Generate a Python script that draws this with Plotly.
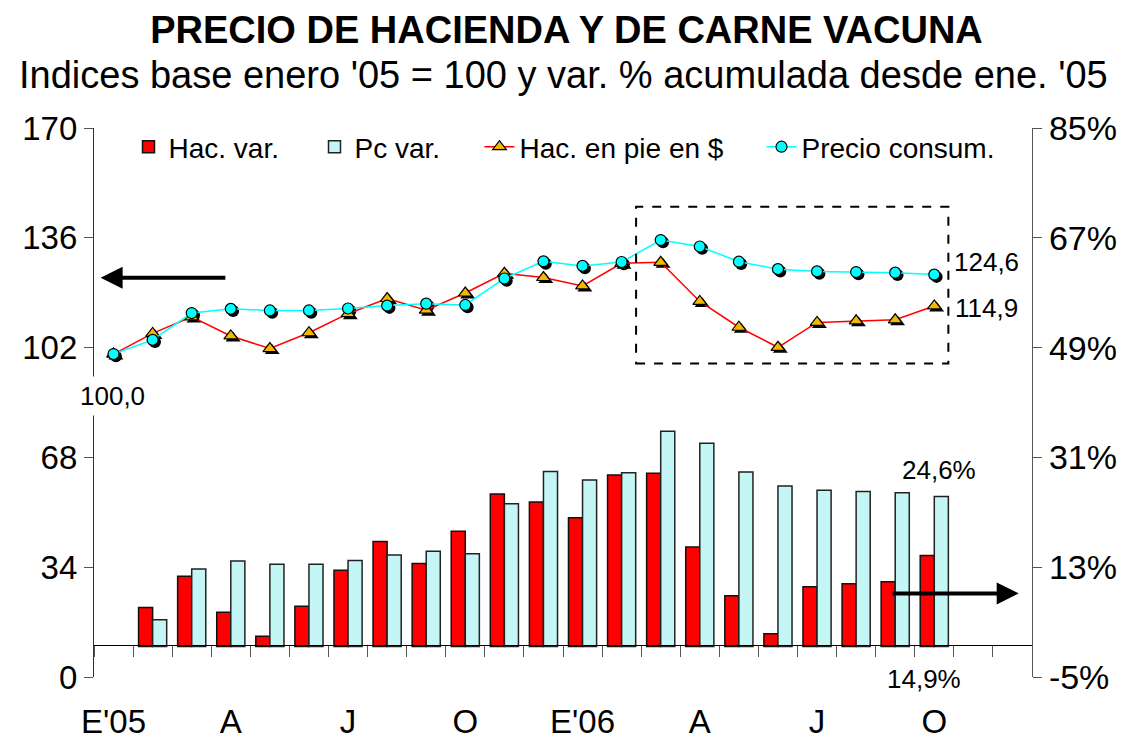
import plotly.graph_objects as go

months = list(range(24))
tick_pos = [0, 3, 6, 9, 12, 15, 18, 21]
tick_text = ["E'05", "A", "J", "O", "E'06", "A", "J", "O"]

# Indices base enero '05 = 100 (Jan05 .. Oct06)
hac_idx = [100.0, 106.4, 111.5, 105.6, 101.7, 106.6, 112.5, 117.2, 113.6, 118.9, 125.0,
           123.7, 121.1, 128.1, 128.4, 116.3, 108.3, 102.1, 109.8, 110.3, 110.6, 114.9]
pc_idx = [100.0, 104.4, 112.7, 114.0, 113.5, 113.5, 114.1, 115.0, 115.6, 115.2, 123.4,
          128.7, 127.3, 128.5, 135.3, 133.3, 128.6, 126.3, 125.6, 125.4, 125.2, 124.6]
# Var. % acumulada desde ene. '05
hac_var = [None, 6.4, 11.5, 5.6, 1.7, 6.6, 12.5, 17.2, 13.6, 18.9, 25.0,
           23.7, 21.1, 28.1, 28.4, 16.3, 8.3, 2.1, 9.8, 10.3, 10.6, 14.9]
pc_var = [None, 4.4, 12.7, 14.0, 13.5, 13.5, 14.1, 15.0, 15.6, 15.2, 23.4,
          28.7, 27.3, 28.5, 35.3, 33.3, 28.6, 26.3, 25.6, 25.4, 25.2, 24.6]

FONT = "Liberation Sans, Arial, sans-serif"
W, H = 1133, 742
L, R, T, B = 94, 101, 128, 65
PW, PH = W - L - R, H - T - B
n = len(hac_idx)
x = months[:n]

fig = go.Figure()

fig.add_trace(go.Bar(x=x, y=hac_var, name="Hac. var.", yaxis="y2", legend="legend",
                     marker=dict(color="#FF0000", line=dict(color="#111111", width=1.5))))
fig.add_trace(go.Bar(x=x, y=pc_var, name="Pc var.", yaxis="y2", legend="legend2",
                     marker=dict(color="#C4F6F6", line=dict(color="#222222", width=1.5))))

# marker shadows
sdx, sdy = 0.06, -0.7
fig.add_trace(go.Scatter(x=[v + sdx for v in x], y=[v + sdy for v in hac_idx], mode="markers",
                         marker=dict(symbol="triangle-up", size=13, color="black"),
                         showlegend=False, hoverinfo="skip"))
fig.add_trace(go.Scatter(x=[v + sdx for v in x], y=[v + sdy for v in pc_idx], mode="markers",
                         marker=dict(symbol="circle", size=12, color="black"),
                         showlegend=False, hoverinfo="skip"))

fig.add_trace(go.Scatter(x=x, y=hac_idx, name="Hac. en pie en $", mode="lines+markers",
                         legend="legend3",
                         line=dict(color="#FF0000", width=1.5),
                         marker=dict(symbol="triangle-up", size=12, color="#F5B800",
                                     line=dict(color="black", width=1.2))))
fig.add_trace(go.Scatter(x=x, y=pc_idx, name="Precio consum.", mode="lines+markers",
                         legend="legend4",
                         line=dict(color="#00FFFF", width=1.5),
                         marker=dict(symbol="circle", size=11, color="#00FFFF",
                                     line=dict(color="black", width=1.2))))

# dashed box around 2006 recent months
fig.add_shape(type="rect", xref="x", yref="y", x0=13.37, x1=21.36, y0=97.1, y1=145.6,
              line=dict(color="black", width=2, dash="dash"))

annos = [
    dict(x=0, y=hac_idx[0], text="100,0", showarrow=False, yshift=-42, xshift=-1,
         bgcolor="white", borderpad=4, font=dict(size=26)),
    dict(x=n - 1, y=pc_idx[-1], text="124,6", showarrow=False, xshift=52, yshift=13,
         font=dict(size=26)),
    dict(x=n - 1, y=hac_idx[-1], text="114,9", showarrow=False, xshift=52, yshift=-2,
         font=dict(size=26)),
    dict(x=n - 1, y=pc_var[-1], yref="y2", text="24,6%", showarrow=False, xshift=5, yshift=26,
         font=dict(size=26)),
    dict(x=n - 1, y=0, yref="y2", text="14,9%", showarrow=False, xshift=-10, yshift=-32,
         font=dict(size=26)),
    # arrows
    dict(x=-0.33, y=123.6, ax=2.9, ay=123.6, xref="x", yref="y", axref="x", ayref="y",
         text="", showarrow=True, arrowhead=2, arrowsize=1.1, arrowwidth=4, arrowcolor="black"),
    dict(x=23.16, y=8.7, ax=19.89, ay=8.7, xref="x", yref="y2", axref="x", ayref="y2",
         text="", showarrow=True, arrowhead=2, arrowsize=1.1, arrowwidth=4, arrowcolor="black"),
    dict(x=0.5, y=1 + (T - 75) / PH, xref="paper", yref="paper", yanchor="middle",
         text="Indices base enero '05 = 100 y var. % acumulada desde ene. '05",
         showarrow=False, font=dict(size=38)),
]


def leg(text_px):
    return dict(orientation="h", x=(text_px - 40.5 - L) / PW, y=1 - (122 - T) / PH,
                xanchor="left", yanchor="top", font=dict(size=28),
                bgcolor="rgba(0,0,0,0)", itemwidth=30)


fig.update_layout(
    width=W, height=H,
    margin=dict(l=L, r=R, t=T, b=B, autoexpand=False),
    paper_bgcolor="white", plot_bgcolor="white",
    font=dict(family=FONT, size=33, color="black"),
    title=dict(text="<b>PRECIO DE HACIENDA Y DE CARNE VACUNA</b>", x=0.5, xanchor="center",
               y=1 - 30 / H, yanchor="middle", font=dict(size=38)),
    barmode="group", bargap=0.28, bargroupgap=0,
    showlegend=True,
    legend=leg(169), legend2=leg(355), legend3=leg(520), legend4=leg(802),
    xaxis=dict(range=[-0.5, 23.5], tickvals=tick_pos, ticktext=tick_text, showline=False,
               showgrid=False, zeroline=False, ticks="", ticklabelstandoff=22,
               tickfont=dict(size=33), automargin=False),
    xaxis2=dict(range=[-0.5, 23.5], overlaying="x", anchor="free",
                position=(677 - 645.3) / PH, showline=True, linecolor="black", linewidth=1.2,
                ticks="outside", ticklen=11, tickcolor="#555", tickwidth=1.2,
                tickvals=[i - 0.5 for i in range(25)], showticklabels=False, showgrid=False,
                zeroline=False, side="bottom", automargin=False),
    yaxis=dict(range=[0, 170], tickvals=[0, 34, 68, 102, 136, 170], showline=True,
               linecolor="#333", linewidth=1.2, ticks="outside", ticklen=9, tickcolor="#555",
               showgrid=False, zeroline=False, tickfont=dict(size=33), automargin=False),
    yaxis2=dict(range=[-5, 85], tickvals=[-5, 13, 31, 49, 67, 85],
                ticktext=["-5%", "13%", "31%", "49%", "67%", "85%"], overlaying="y",
                side="right", showline=True, linecolor="#555", linewidth=1.2, ticks="outside",
                ticklen=9, tickcolor="#555", showgrid=False, zeroline=False,
                tickfont=dict(size=34), automargin=False),
    annotations=annos,
)
# dummy trace to activate xaxis2
fig.add_trace(go.Scatter(x=[None], y=[None], xaxis="x2", showlegend=False, hoverinfo="skip"))

fig.write_html("out.html", config={"displayModeBar": False},
               post_script="document.body.style.margin='0';document.body.style.overflow='hidden';")
